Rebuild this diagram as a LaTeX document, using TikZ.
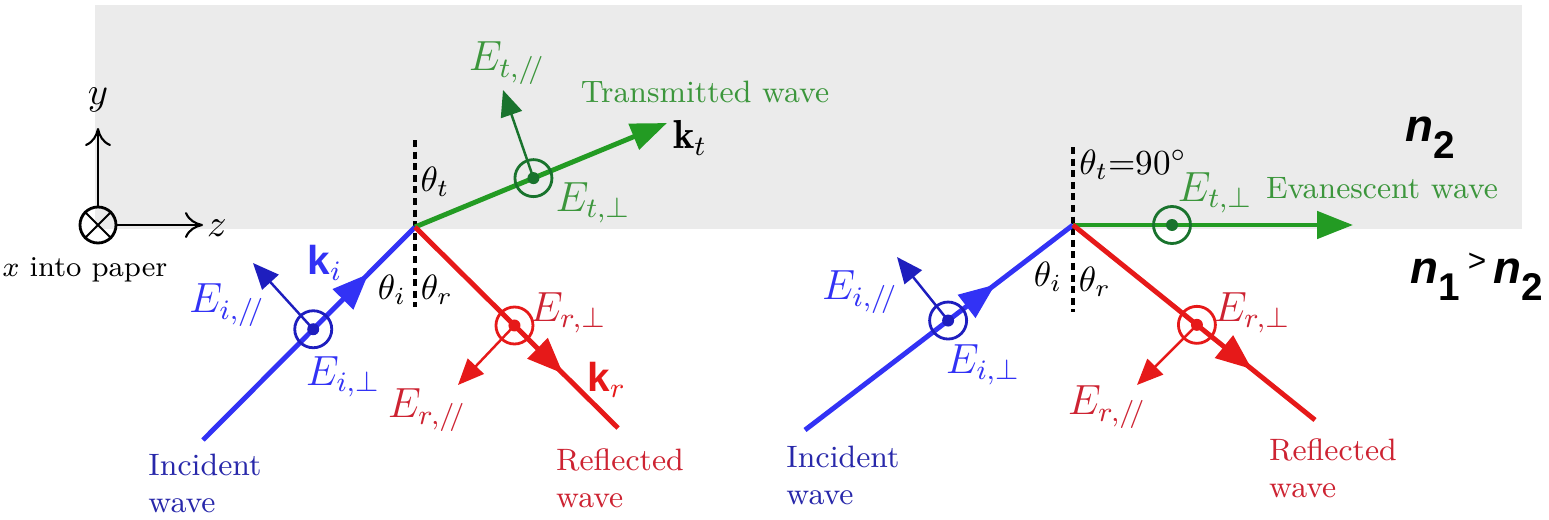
\documentclass[tikz,border=0pt]{standalone}
\usepackage{amsmath,amssymb}
\usepackage{fontspec}
\newfontfamily\arialfont{Liberation Sans}
\usepackage{xcolor}
\usepackage{tikz}
\usetikzlibrary{calc,arrows.meta,
                 decorations.markings,positioning}

\definecolor{rayblue}{RGB}{50,50,245}
\definecolor{circblue}{RGB}{30,30,190}
\definecolor{txtblue}{RGB}{40,40,170}
\definecolor{rayred}{RGB}{230,25,25}
\definecolor{txtred}{RGB}{205,35,50}
\definecolor{raygreen}{RGB}{35,155,35}
\definecolor{txtgreen}{RGB}{60,150,60}
\definecolor{darkgreen}{RGB}{25,115,45}
\definecolor{paper}{RGB}{235,235,235}

\tikzset{
  ray/.style={line width=1.4pt},
  efield/.style={line width=0.7pt,-{Triangle[length=2.6mm,width=2.2mm]}},
  khead/.style={-{Triangle[length=3.6mm,width=2.7mm]}},
  midhead/.style={postaction={decorate},decoration={markings,
      mark=at position #1 with {\arrow{Triangle[length=3.6mm,width=2.8mm]}}}},
  dotcirc/.style={circle,draw,line width=0.8pt,minimum size=3.7mm,inner sep=0pt},
  normalline/.style={line width=1pt,dash pattern=on 2pt off 1.3pt},
  axisarrow/.style={line width=0.6pt,-{To[length=1.8mm,width=2.6mm]}},
  elbl/.style={font=\fontsize{11.5}{13}\selectfont},
  wavelbl/.style={align=left,font=\fontsize{8.8}{10.5}\selectfont},
  nlbl/.style={font=\fontsize{13}{15}\selectfont\arialfont\bfseries\itshape}
}
\newcommand{\Epar}[1]{$E_{#1,/\!/}$}
\newcommand{\Eperp}[1]{$E_{#1,\perp}$}

\begin{document}
\begin{tikzpicture}[x=0.1mm,y=-0.1mm]
    \useasboundingbox (0,0) rectangle (1549,519);
    \fill[paper] (95,5) rectangle (1522,229);
    % axes
    \node[circle,draw,line width=0.8pt,minimum size=3.6mm,inner sep=0pt] (xax) at (98,225) {};
    \draw[line width=0.6pt] (xax.45) -- (xax.225) (xax.135) -- (xax.315);
    \coordinate (ytip) at (98,128);
    \coordinate (ztip) at (203,225);
    \draw[axisarrow] (xax.north) -- (ytip);
    \draw[axisarrow] (xax.east) -- (ztip);
    \node[font=\fontsize{11}{13}\selectfont] (ylbl) at (98,100) {$y$};
    \node[font=\fontsize{11}{13}\selectfont] (zlbl) at (217,228) {$z$};
    \node[font=\fontsize{8.2}{10}\selectfont] (xlbl) at (85,270) {$x$ into paper};
    % left: partial transmission
    \coordinate (O1) at (415,227);
    \coordinate (inc1) at (203,440);
    \coordinate (kt1) at (667,123);
    \coordinate (ref1) at (618,428);
    \coordinate (nrm1a) at (415,140);
    \coordinate (nrm1b) at (415,307);
    \draw[normalline] (nrm1a) -- (nrm1b);
    \draw[ray,rayblue,midhead=0.78] (inc1) -- (O1);
    \draw[ray,raygreen,khead] (O1) -- (kt1);
    \draw[ray,rayred,midhead=0.73] (O1) -- (ref1);
    \node[dotcirc,draw=circblue] (ci1) at ($(inc1)!0.52!(O1)$) {};
    \node[dotcirc,draw=darkgreen] (ct1) at ($(O1)!0.47!(kt1)$) {};
    \node[dotcirc,draw=rayred] (cr1) at ($(O1)!0.49!(ref1)$) {};
    \fill[circblue] (ci1.center) circle (0.6mm);
    \fill[darkgreen] (ct1.center) circle (0.6mm);
    \fill[rayred] (cr1.center) circle (0.6mm);
    \coordinate (ei1) at (253,263);
    \coordinate (et1) at (503,90);
    \coordinate (er1) at (458,385);
    \draw[efield,circblue] (ci1.center) -- (ei1);
    \draw[efield,darkgreen] (ct1.center) -- (et1);
    \draw[efield,rayred] (cr1.center) -- (er1);
    \node[elbl,rayblue] (eipar1) at (227,305) {\Epar{i}};
    \node[elbl,rayblue] (eiperp1) at (343,377) {\Eperp{i}};
    \node[elbl,txtgreen] (etpar1) at (507,63) {\Epar{t}};
    \node[elbl,txtgreen] (etperp1) at (593,203) {\Eperp{t}};
    \node[elbl,txtred] (erperp1) at (568,313) {\Eperp{r}};
    \node[elbl,txtred] (erpar1) at (427,410) {\Epar{r}};
    \node[elbl,rayblue] (ki1) at (325,263) {{\arialfont\bfseries k}$_{i}$};
    \node[elbl,rayred] (kr1) at (607,380) {{\arialfont\bfseries k}$_{r}$};
    \node[elbl] (ktl1) at (690,138) {$\mathbf{k}_{t}$};
    \node (thi1) at (392,290) {$\theta_i$};
    \node (thr1) at (437,290) {$\theta_r$};
    \node (tht1) at (435,182) {$\theta_t$};
    \node[wavelbl,txtblue] (incw1) at (205,483) {Incident\\wave};
    \node[wavelbl,txtred] (refw1) at (620,478) {Reflected\\wave};
    \node[wavelbl,txtgreen] (trw1) at (705,92) {Transmitted wave};
    % right: total internal reflection
    \coordinate (O2) at (1073,225);
    \coordinate (inc2) at (805,430);
    \coordinate (ev2) at (1353,225);
    \coordinate (ref2) at (1315,420);
    \coordinate (nrm2a) at (1073,147);
    \coordinate (nrm2b) at (1073,312);
    \draw[normalline] (nrm2a) -- (nrm2b);
    \draw[ray,rayblue,midhead=0.71] (inc2) -- (O2);
    \draw[ray,raygreen,khead] (O2) -- (ev2);
    \draw[ray,rayred,midhead=0.74] (O2) -- (ref2);
    \node[dotcirc,draw=circblue] (ci2) at ($(inc2)!0.534!(O2)$) {};
    \node[dotcirc,draw=darkgreen] (ct2) at (1172,225) {};
    \node[dotcirc,draw=rayred] (cr2) at ($(O2)!0.512!(ref2)$) {};
    \fill[circblue] (ci2.center) circle (0.6mm);
    \fill[darkgreen] (ct2.center) circle (0.6mm);
    \fill[rayred] (cr2.center) circle (0.6mm);
    \coordinate (ei2) at (897,257);
    \coordinate (er2) at (1137,385);
    \draw[efield,circblue] (ci2.center) -- (ei2);
    \draw[efield,rayred] (cr2.center) -- (er2);
    \node[elbl,rayblue] (eipar2) at (860,292) {\Epar{i}};
    \node[elbl,rayblue] (eiperp2) at (983,365) {\Eperp{i}};
    \node[elbl,txtgreen] (etperp2) at (1215,193) {\Eperp{t}};
    \node[elbl,txtred] (erperp2) at (1252,313) {\Eperp{r}};
    \node[elbl,txtred] (erpar2) at (1107,407) {\Epar{r}};
    \node (thi2) at (1048,277) {$\theta_i$};
    \node (thr2) at (1095,282) {$\theta_r$};
    \node (tht2) at (1133,165) {$\theta_t$=90$^\circ$};
    \node[wavelbl,txtblue] (incw2) at (843,475) {Incident\\wave};
    \node[wavelbl,txtred] (refw2) at (1333,468) {Reflected\\wave};
    \node[wavelbl,txtgreen] (evw2) at (1382,188) {Evanescent wave};
    % media
    \node[nlbl] (n2) at (1430,138) {n\raisebox{-0.7ex}{\fontsize{11}{13}\selectfont\upshape 2}};
    \node[nlbl] (n1n2) at (1477,277) {n\raisebox{-0.7ex}{\fontsize{11}{13}\selectfont\upshape 1}\,\raisebox{0.5ex}{\fontsize{9}{11}\selectfont\mdseries\upshape >}\,n\raisebox{-0.7ex}{\fontsize{11}{13}\selectfont\upshape 2}};
\end{tikzpicture}
\end{document}
